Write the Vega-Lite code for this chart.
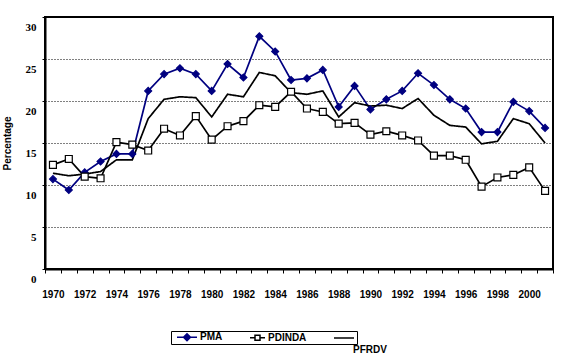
{
  "$schema": "https://vega.github.io/schema/vega-lite/v6.json",
  "autosize": "none",
  "width": 508,
  "height": 252,
  "padding": {"left": 45, "top": 17, "right": 10, "bottom": 93},
  "background": "white",
  "config": {
    "view": {"stroke": "black", "strokeWidth": 2},
    "axis": {"labelFont": "Liberation Sans", "labelFontWeight": "bold", "labelColor": "black", "tickColor": "black", "domainColor": "black"}
  },
  "datasets": {
    "d": [
      {"year":1970,"series":"PMA","value":10.7},{"year":1971,"series":"PMA","value":9.4},{"year":1972,"series":"PMA","value":11.5},{"year":1973,"series":"PMA","value":12.8},{"year":1974,"series":"PMA","value":13.7},{"year":1975,"series":"PMA","value":13.7},{"year":1976,"series":"PMA","value":21.2},{"year":1977,"series":"PMA","value":23.2},{"year":1978,"series":"PMA","value":23.9},{"year":1979,"series":"PMA","value":23.2},{"year":1980,"series":"PMA","value":21.2},{"year":1981,"series":"PMA","value":24.4},{"year":1982,"series":"PMA","value":22.8},{"year":1983,"series":"PMA","value":27.7},{"year":1984,"series":"PMA","value":25.9},{"year":1985,"series":"PMA","value":22.5},{"year":1986,"series":"PMA","value":22.7},{"year":1987,"series":"PMA","value":23.7},{"year":1988,"series":"PMA","value":19.3},{"year":1989,"series":"PMA","value":21.8},{"year":1990,"series":"PMA","value":19.0},{"year":1991,"series":"PMA","value":20.2},{"year":1992,"series":"PMA","value":21.2},{"year":1993,"series":"PMA","value":23.3},{"year":1994,"series":"PMA","value":21.9},{"year":1995,"series":"PMA","value":20.2},{"year":1996,"series":"PMA","value":19.1},{"year":1997,"series":"PMA","value":16.3},{"year":1998,"series":"PMA","value":16.3},{"year":1999,"series":"PMA","value":19.9},{"year":2000,"series":"PMA","value":18.8},{"year":2001,"series":"PMA","value":16.8},
      {"year":1970,"series":"PDINDA","value":12.4},{"year":1971,"series":"PDINDA","value":13.1},{"year":1972,"series":"PDINDA","value":11.0},{"year":1973,"series":"PDINDA","value":10.8},{"year":1974,"series":"PDINDA","value":15.1},{"year":1975,"series":"PDINDA","value":14.8},{"year":1976,"series":"PDINDA","value":14.1},{"year":1977,"series":"PDINDA","value":16.7},{"year":1978,"series":"PDINDA","value":15.9},{"year":1979,"series":"PDINDA","value":18.2},{"year":1980,"series":"PDINDA","value":15.4},{"year":1981,"series":"PDINDA","value":17.0},{"year":1982,"series":"PDINDA","value":17.6},{"year":1983,"series":"PDINDA","value":19.5},{"year":1984,"series":"PDINDA","value":19.3},{"year":1985,"series":"PDINDA","value":21.1},{"year":1986,"series":"PDINDA","value":19.1},{"year":1987,"series":"PDINDA","value":18.7},{"year":1988,"series":"PDINDA","value":17.3},{"year":1989,"series":"PDINDA","value":17.4},{"year":1990,"series":"PDINDA","value":16.0},{"year":1991,"series":"PDINDA","value":16.4},{"year":1992,"series":"PDINDA","value":15.9},{"year":1993,"series":"PDINDA","value":15.3},{"year":1994,"series":"PDINDA","value":13.5},{"year":1995,"series":"PDINDA","value":13.5},{"year":1996,"series":"PDINDA","value":13.0},{"year":1997,"series":"PDINDA","value":9.8},{"year":1998,"series":"PDINDA","value":10.9},{"year":1999,"series":"PDINDA","value":11.2},{"year":2000,"series":"PDINDA","value":12.1},{"year":2001,"series":"PDINDA","value":9.3},
      {"year":1970,"series":"PFRDV","value":11.4},{"year":1971,"series":"PFRDV","value":11.1},{"year":1972,"series":"PFRDV","value":11.3},{"year":1973,"series":"PFRDV","value":11.6},{"year":1974,"series":"PFRDV","value":13.0},{"year":1975,"series":"PFRDV","value":13.0},{"year":1976,"series":"PFRDV","value":17.9},{"year":1977,"series":"PFRDV","value":20.2},{"year":1978,"series":"PFRDV","value":20.5},{"year":1979,"series":"PFRDV","value":20.4},{"year":1980,"series":"PFRDV","value":18.1},{"year":1981,"series":"PFRDV","value":20.8},{"year":1982,"series":"PFRDV","value":20.5},{"year":1983,"series":"PFRDV","value":23.4},{"year":1984,"series":"PFRDV","value":23.0},{"year":1985,"series":"PFRDV","value":21.0},{"year":1986,"series":"PFRDV","value":20.8},{"year":1987,"series":"PFRDV","value":21.2},{"year":1988,"series":"PFRDV","value":18.1},{"year":1989,"series":"PFRDV","value":19.8},{"year":1990,"series":"PFRDV","value":19.4},{"year":1991,"series":"PFRDV","value":19.5},{"year":1992,"series":"PFRDV","value":19.1},{"year":1993,"series":"PFRDV","value":20.3},{"year":1994,"series":"PFRDV","value":18.3},{"year":1995,"series":"PFRDV","value":17.1},{"year":1996,"series":"PFRDV","value":16.9},{"year":1997,"series":"PFRDV","value":14.9},{"year":1998,"series":"PFRDV","value":15.2},{"year":1999,"series":"PFRDV","value":17.9},{"year":2000,"series":"PFRDV","value":17.3},{"year":2001,"series":"PFRDV","value":15.0}
    ]
  },
  "data": {"name": "d"},
  "encoding": {
    "x": {
      "field": "year", "type": "ordinal", "title": null,
      "scale": {"paddingInner": 0, "paddingOuter": 0},
      "axis": {
        "labelAngle": 0, "labelFontSize": 10, "labelPadding": 16, "tickSize": 4, "tickBand": "extent",
        "domainWidth": 2, "grid": false,
        "labelExpr": "datum.value % 2 == 0 ? datum.label : ''"
      }
    },
    "y": {
      "field": "value", "type": "quantitative",
      "scale": {"domain": [0, 30], "nice": false},
      "axis": {
        "values": [0, 5, 10, 15, 20, 25, 30],
        "title": "Percentage", "titleFont": "Liberation Sans", "titleFontWeight": "bold", "titleFontSize": 10,
        "titleX": -38, "titleBaseline": "middle", "titleColor": "black",
        "labelFont": "Liberation Serif", "labelFontSize": 11, "labelOffset": 10, "labelPadding": 6,
        "tickSize": 3, "domainWidth": 2,
        "grid": true, "gridColor": "black", "gridDash": [1, 2], "gridWidth": 1, "gridOpacity": 1
      }
    }
  },
  "layer": [
    {
      "mark": {"type": "line", "strokeWidth": 1.7},
      "encoding": {
        "color": {
          "field": "series", "type": "nominal",
          "scale": {"domain": ["PMA", "PDINDA", "PFRDV"], "range": ["#000080", "black", "black"]},
          "legend": {
            "title": " ", "titleOrient": "left", "titlePadding": 5, "titleFontSize": 10,
            "orient": "none", "legendX": 126, "legendY": 314, "direction": "horizontal",
            "strokeColor": "black", "padding": 0, "fillColor": "white",
            "labelFont": "Liberation Sans", "labelFontWeight": "bold", "labelFontSize": 10, "labelColor": "black",
            "labelExpr": "datum.label == 'PFRDV' ? '                ' : datum.label",
            "symbolSize": 100, "labelOffset": 12, "columnPadding": 24, "symbolStrokeWidth": 1.5,
            "encode": {
              "symbols": {"update": {
                "shape": {"signal": "datum.value == 'PMA' ? 'M-1,0H3M1,-0.7L1.7,0L1,0.7L0.3,0Z' : datum.value == 'PDINDA' ? 'M-1,0H0M1,0H2M0,-0.5H1V0.5H0Z' : 'M-1,0H3'"},
                "fill": {"signal": "datum.value == 'PMA' ? '#000080' : datum.value == 'PDINDA' ? 'white' : 'transparent'"},
                "stroke": {"signal": "datum.value == 'PMA' ? '#000080' : 'black'"}
              }},
              "labels": {"update": {
                "dx": {"signal": "datum.label == 'PDINDA' ? -5 : 0"}
              }}
            }
          }
        },
        "strokeDash": {
          "field": "series", "type": "nominal",
          "scale": {"domain": ["PFRDV"], "range": [[1, 0]]},
          "legend": {
            "title": null, "orient": "none", "legendX": 298, "legendY": 328, "padding": 0,
            "symbolOpacity": 0, "symbolSize": 1, "labelOffset": 0,
            "labelFont": "Liberation Sans", "labelFontWeight": "bold", "labelFontSize": 10, "labelColor": "black"
          }
        }
      }
    },
    {
      "transform": [{"filter": "datum.series != 'PFRDV'"}],
      "mark": {"type": "point", "filled": false, "opacity": 1, "strokeWidth": 1.2},
      "encoding": {
        "shape": {"field": "series", "type": "nominal", "scale": {"domain": ["PMA", "PDINDA"], "range": ["diamond", "square"]}, "legend": null},
        "fill": {"field": "series", "type": "nominal", "scale": {"domain": ["PMA", "PDINDA"], "range": ["#000080", "white"]}, "legend": null},
        "stroke": {"field": "series", "type": "nominal", "scale": {"domain": ["PMA", "PDINDA"], "range": ["#000080", "black"]}, "legend": null},
        "size": {"value": 48}
      }
    }
  ]
}
